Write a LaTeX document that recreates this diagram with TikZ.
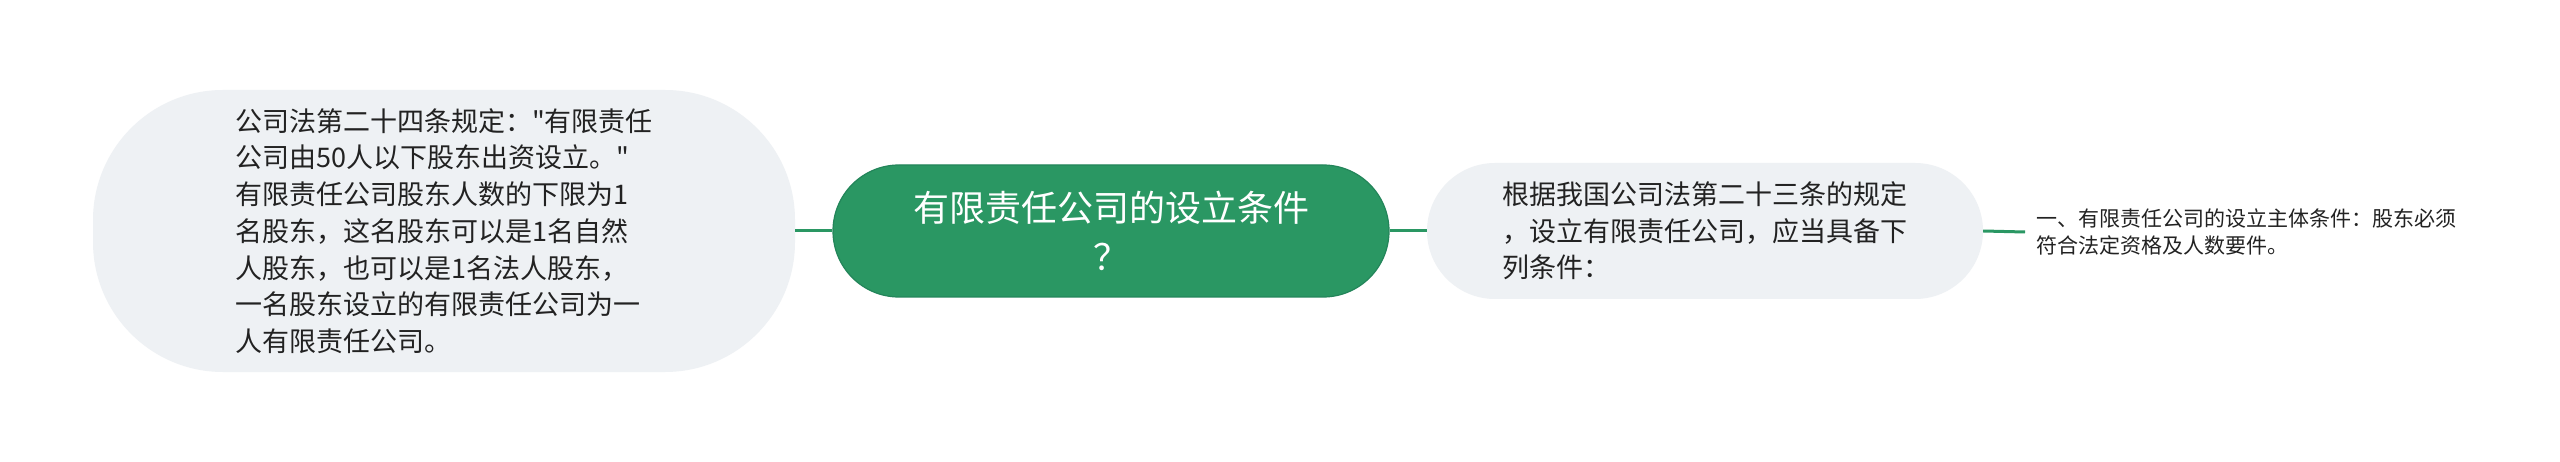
\documentclass[tikz,border=0pt]{standalone}
\usepackage{fontspec}
\setmainfont{Noto Sans CJK SC}[Ligatures=TeXOff]
\definecolor{nodegray}{HTML}{EEF1F4}
\definecolor{rootgreen}{HTML}{2A9763}
\definecolor{rootedge}{HTML}{23855A}
\definecolor{linkgreen}{HTML}{2A9763}
\definecolor{txt}{HTML}{222222}
\tikzset{
  subbox/.style={fill=nodegray, draw=none, inner sep=0pt, align=left, text=txt},
  rootbox/.style={fill=rootgreen, draw=rootedge, line width=1.2pt, inner sep=0pt, align=center, text=white},
  leafbox/.style={inner xsep=11pt, inner ysep=0pt, align=left, text=txt},
  link/.style={draw=linkgreen, line width=3pt}
}
\begin{document}
\begin{tikzpicture}[x=1pt,y=-1pt]
\useasboundingbox (0,0) rectangle (2560,462);
\fill[white] (0,0) rectangle (2560,462);

\node[subbox, minimum width=702pt, minimum height=282pt, rounded corners=130pt,
      font=\fontsize{27pt}{36.7pt}\selectfont] (left) at (444,231)
  {公司法第二十四条规定："有限责任\\
   公司由50人以下股东出资设立。"\\
   有限责任公司股东人数的下限为1\\
   名股东，这名股东可以是1名自然\\
   人股东，也可以是1名法人股东，\\
   一名股东设立的有限责任公司为一\\
   人有限责任公司。};

\node[rootbox, minimum width=556pt, minimum height=132pt, rounded corners=66pt,
      font=\fontsize{36pt}{49pt}\selectfont] (root) at (1111,231)
  {有限责任公司的设立条件\\？};

\node[subbox, minimum width=556pt, minimum height=136pt, rounded corners=68pt,
      font=\fontsize{27pt}{36.5pt}\selectfont] (right) at (1705,231)
  {根据我国公司法第二十三条的规定\\
   ，设立有限责任公司，应当具备下\\
   列条件：};

\node[leafbox, anchor=west, font=\fontsize{21pt}{27pt}\selectfont] (leaf) at (2025,232)
  {一、有限责任公司的设立主体条件：股东必须\\
   符合法定资格及人数要件。};

\draw[link] (left.east) -- (root.west);
\draw[link] (root.east) -- (right.west);
\draw[link] (right.east) -- (leaf.west);
\end{tikzpicture}
\end{document}
